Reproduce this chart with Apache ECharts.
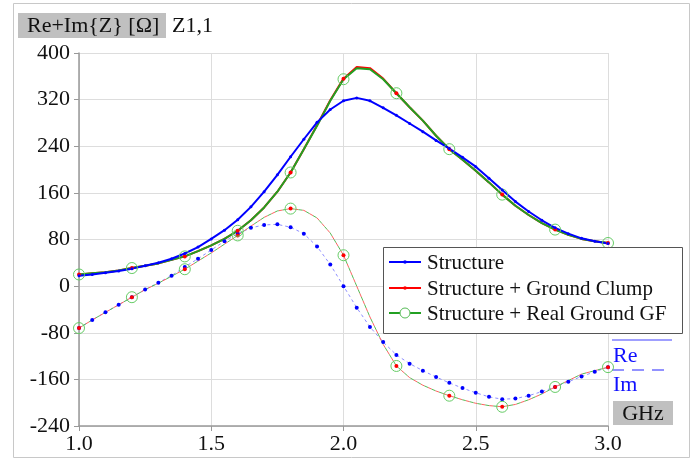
<!DOCTYPE html>
<html>
<head>
<meta charset="utf-8">
<script src="https://cdn.jsdelivr.net/npm/echarts@6/dist/echarts.min.js"></script>
<style>
  html, body { margin: 0; padding: 0; background: #fff; }
  #chart { width: 697px; height: 462px; }
</style>
</head>
<body>
<div id="chart"></div>
<script>
// frequency points, GHz
const freq = [1.00, 1.05, 1.10, 1.15, 1.20, 1.25, 1.30, 1.35, 1.40, 1.45,
  1.50, 1.55, 1.60, 1.65, 1.70, 1.75, 1.80, 1.85, 1.90, 1.95,
  2.00, 2.05, 2.10, 2.15, 2.20, 2.25, 2.30, 2.35, 2.40, 2.45,
  2.50, 2.55, 2.60, 2.65, 2.70, 2.75, 2.80, 2.85, 2.90, 2.95, 3.00]

// Re{Z}
const structRe = [18, 20, 23, 26, 30, 35, 40, 47, 56, 67,
  81, 96, 114, 136, 162, 191, 222, 252, 281, 303,
  318, 323, 318, 306, 293, 279, 265, 250, 236, 221,
  205, 185, 165, 145, 128, 113, 100, 90, 82, 77, 73]
const clumpRe = [20, 22, 24, 27, 31, 35, 39, 45, 51, 60,
  70, 81, 95, 113, 135, 162, 195, 235, 276, 319,
  356, 376, 374, 356, 331, 307, 284, 258, 235, 217,
  198, 178, 157, 138, 122, 108, 97, 88, 81, 77, 74]
const realGfRe = [20, 22, 24, 27, 31, 35, 39, 45, 51, 60,
  70, 81, 95, 113, 135, 162, 195, 235, 275, 318,
  355, 374, 372, 355, 331, 307, 284, 258, 235, 217,
  198, 178, 157, 138, 122, 108, 97, 88, 81, 77, 74]

// Im{Z}
const structIm = [-72, -58, -45, -32, -19, -6, 6, 18, 33, 47,
  62, 77, 90, 100, 105, 106, 101, 90, 68, 37,
  0, -37, -70, -96, -118, -133, -145, -156, -166, -175,
  -183, -190, -194, -193, -188, -181, -173, -164, -155, -147, -139]
const clumpIm = [-72, -58, -45, -32, -19, -6, 5, 17, 29, 43,
  57, 72, 87, 103, 118, 129, 133, 130, 117, 91,
  53, 0, -53, -100, -137, -157, -170, -180, -188, -195,
  -201, -205, -207, -203, -195, -185, -173, -162, -151, -145, -139]
const realGfIm = clumpIm.slice()

const yTicks = { min: -240, max: 400, step: 80 }
const xTicks = { min: 1, max: 3, step: 0.5 }

const pairs = (ys) => freq.map((f, i) => [f, ys[i]])
// markers on the ground curves only every 0.2 GHz
const onMarker = (v) => Math.abs(v[0] * 5 - Math.round(v[0] * 5)) < 1e-6
const FONT = 'Liberation Serif'
const TOP = 100

const chart = echarts.init(document.getElementById('chart'))
chart.setOption({
  animation: false,
  backgroundColor: '#fff',
  grid: { left: 79, right: 89, top: 53, bottom: 36, containLabel: false },
  xAxis: {
    type: 'value',
    min: xTicks.min,
    max: xTicks.max,
    interval: xTicks.step,
    axisLine: { onZero: false, lineStyle: { color: '#999', width: 1.5 } },
    axisTick: { show: true, length: 5, lineStyle: { color: '#999' } },
    axisLabel: {
      margin: 7,
      fontFamily: FONT,
      fontSize: 22,
      color: '#111',
      formatter: (v) => v.toFixed(1)
    },
    splitLine: { show: true, lineStyle: { color: '#ddd' } }
  },
  yAxis: {
    type: 'value',
    min: yTicks.min,
    max: yTicks.max,
    interval: yTicks.step,
    axisLine: { show: true, lineStyle: { color: '#999', width: 1.5 } },
    axisTick: { show: true, length: 5, lineStyle: { color: '#999' } },
    axisLabel: { margin: 9, fontFamily: FONT, fontSize: 22, color: '#111' },
    splitLine: { show: true, lineStyle: { color: '#ddd' } }
  },
  series: [
    {
      name: 'Structure Im',
      type: 'line',
      data: pairs(structIm),
      symbol: 'circle',
      symbolSize: 4,
      itemStyle: { color: '#0000ff' },
      lineStyle: { color: '#8f8fff', width: 1, type: [3, 3] }
    },
    {
      name: 'Ground Clump Im',
      type: 'line',
      data: pairs(clumpIm),
      symbol: 'circle',
      symbolSize: (v) => (onMarker(v) ? 4 : 0),
      itemStyle: { color: '#ff0000' },
      lineStyle: { color: '#ff6060', width: 1, type: [4, 4] }
    },
    {
      name: 'Real Ground GF Im',
      type: 'line',
      data: pairs(realGfIm),
      symbol: 'circle',
      symbolSize: (v) => (onMarker(v) ? 11 : 0),
      itemStyle: { color: 'rgba(0,0,0,0)', borderColor: '#66cc66', borderWidth: 1 },
      lineStyle: { color: '#55bb55', width: 1, type: [4, 4], dashOffset: 4 }
    },
    {
      name: 'Structure + Ground Clump',
      type: 'line',
      data: pairs(clumpRe),
      symbol: 'circle',
      symbolSize: (v) => (onMarker(v) ? 4 : 0),
      itemStyle: { color: '#ff0000' },
      lineStyle: { color: '#ff0000', width: 2 }
    },
    {
      name: 'Structure + Real Ground GF',
      type: 'line',
      data: pairs(realGfRe),
      symbol: 'circle',
      symbolSize: (v) => (onMarker(v) ? 11 : 0),
      itemStyle: { color: 'rgba(0,0,0,0)', borderColor: '#66cc66', borderWidth: 1 },
      lineStyle: { color: '#22a022', width: 2 }
    },
    {
      name: 'Structure',
      type: 'line',
      data: pairs(structRe),
      symbol: 'circle',
      symbolSize: 3,
      itemStyle: { color: '#0000ff' },
      lineStyle: { color: '#0000ff', width: 2 }
    }
  ],
  graphic: [
    // outer frame
    { type: 'rect', shape: { x: 13.5, y: 3.5, width: 676, height: 454 }, style: { fill: 'none', stroke: '#c8c8c8' }, silent: true },
    // title
    { type: 'rect', shape: { x: 18, y: 13, width: 148, height: 25 }, style: { fill: '#c0c0c0' } },
    { type: 'text', x: 27, y: 26, style: { text: 'Re+Im{Z} [Ω]', font: '22px "Liberation Serif"', fill: '#111', verticalAlign: 'middle' } },
    { type: 'text', x: 172, y: 26, style: { text: 'Z1,1', font: '22px "Liberation Serif"', fill: '#111', verticalAlign: 'middle' } },
    // legend
    { type: 'rect', z: TOP, shape: { x: 383.5, y: 247.5, width: 299, height: 86 }, style: { fill: '#fff', stroke: '#555', lineWidth: 1 } },
    { type: 'line', z: TOP + 1, shape: { x1: 389, y1: 262, x2: 421, y2: 262 }, style: { stroke: '#0000ff', lineWidth: 2 } },
    { type: 'circle', z: TOP + 2, shape: { cx: 405, cy: 262, r: 1.8 }, style: { fill: '#0000ff' } },
    { type: 'text', z: TOP + 1, x: 427, y: 263, style: { text: 'Structure', font: '21px "Liberation Serif"', fill: '#111', verticalAlign: 'middle' } },
    { type: 'line', z: TOP + 1, shape: { x1: 389, y1: 288, x2: 421, y2: 288 }, style: { stroke: '#ff0000', lineWidth: 2 } },
    { type: 'circle', z: TOP + 2, shape: { cx: 405, cy: 288, r: 1.8 }, style: { fill: '#ff0000' } },
    { type: 'text', z: TOP + 1, x: 427, y: 289, style: { text: 'Structure + Ground Clump', font: '21px "Liberation Serif"', fill: '#111', verticalAlign: 'middle' } },
    { type: 'line', z: TOP + 1, shape: { x1: 389, y1: 313, x2: 421, y2: 313 }, style: { stroke: '#22a022', lineWidth: 2 } },
    { type: 'circle', z: TOP + 2, shape: { cx: 405, cy: 313, r: 5 }, style: { fill: '#fff', stroke: '#55bb55', lineWidth: 1 } },
    { type: 'text', z: TOP + 1, x: 427, y: 314, style: { text: 'Structure + Real Ground GF', font: '21px "Liberation Serif"', fill: '#111', verticalAlign: 'middle' } },
    // Re / Im key and unit
    { type: 'line', shape: { x1: 612, y1: 340, x2: 672, y2: 340 }, style: { stroke: '#9f9fff', lineWidth: 2 } },
    { type: 'text', x: 613, y: 356, style: { text: 'Re', font: '22px "Liberation Serif"', fill: '#1010ff', verticalAlign: 'middle' } },
    { type: 'line', shape: { x1: 612, y1: 370, x2: 672, y2: 370 }, style: { stroke: '#6f6fff', lineWidth: 1.5, lineDash: [12, 8] } },
    { type: 'text', x: 613, y: 385, style: { text: 'Im', font: '22px "Liberation Serif"', fill: '#1010ff', verticalAlign: 'middle' } },
    { type: 'rect', shape: { x: 613, y: 401, width: 60, height: 24 }, style: { fill: '#c0c0c0' } },
    { type: 'text', x: 643, y: 414, style: { text: 'GHz', font: '22px "Liberation Serif"', fill: '#111', align: 'center', verticalAlign: 'middle' } }
  ]
})
</script>
</body>
</html>
